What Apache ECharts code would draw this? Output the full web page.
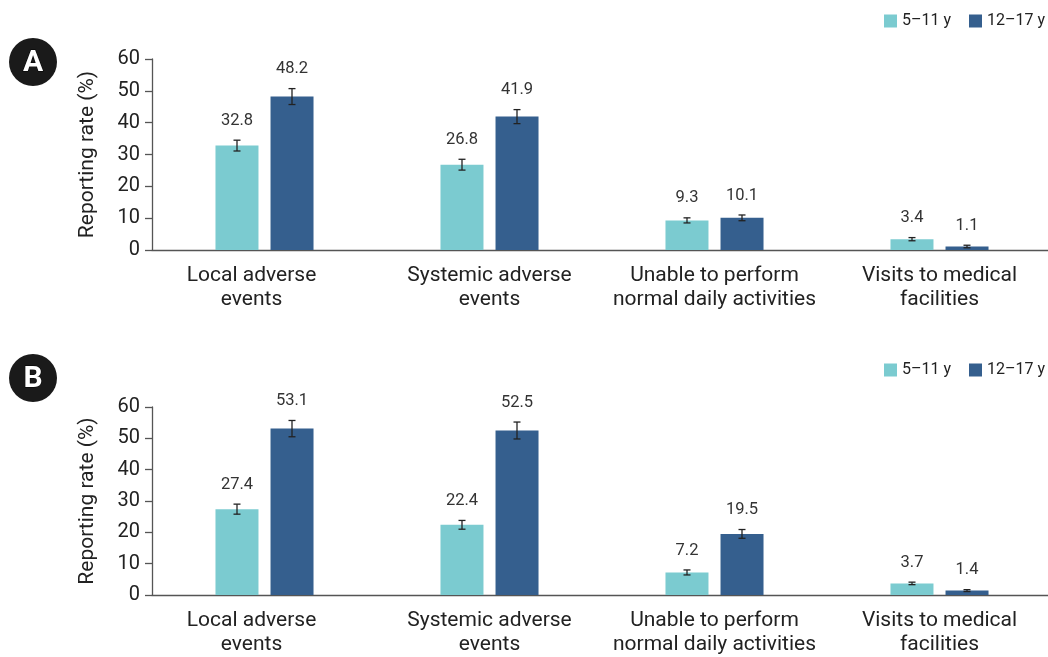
<!DOCTYPE html>
<html>
<head>
<meta charset="utf-8">
<script src="https://cdn.jsdelivr.net/npm/echarts@6/dist/echarts.min.js"></script>
<style>
html,body{margin:0;padding:0;background:#fff;overflow:hidden;}
#chart{width:1056px;height:657px;}
</style>
</head>
<body>
<div id="chart"></div>
<script>
const categories = ['Local adverse\nevents', 'Systemic adverse\nevents', 'Unable to perform\nnormal daily activities', 'Visits to medical\nfacilities'];
const seriesNames = ['5\u201311 y', '12\u201317 y'];
const yTicks = [0, 10, 20, 30, 40, 50, 60];

const A_5_11 = [32.8, 26.8, 9.3, 3.4];
const A_5_11_err = [1.7, 1.7, 0.8, 0.5];
const A_12_17 = [48.2, 41.9, 10.1, 1.1];
const A_12_17_err = [2.5, 2.2, 0.9, 0.4];

const B_5_11 = [27.4, 22.4, 7.2, 3.7];
const B_5_11_err = [1.6, 1.4, 0.8, 0.4];
const B_12_17 = [53.1, 52.5, 19.5, 1.4];
const B_12_17_err = [2.6, 2.7, 1.4, 0.3];

const COLORS = ['#7BCBD0', '#355F8E'];
const FONT = 'Roboto, "Noto Sans", sans-serif';
const BAR_W = 43;
const OFFSET = 27.5;

function barSeries(name, data, idx, colorIdx) {
  return {
    name: name, type: 'bar', xAxisIndex: idx, yAxisIndex: idx,
    data: data, barWidth: BAR_W, barGap: '28%',
    itemStyle: { color: COLORS[colorIdx] },
    emphasis: { disabled: true },
    z: 2
  };
}

function errSeries(name, vals, errs, idx, off) {
  return {
    name: name, type: 'custom', xAxisIndex: idx, yAxisIndex: idx,
    data: vals.map((v, i) => [i, v, errs[i]]),
    z: 5, silent: true,
    renderItem: function (params, api) {
      const i = api.value(0), v = api.value(1), e = api.value(2);
      const c = api.coord([i, v]);
      const x = c[0] + off;
      const top = api.coord([i, v + e])[1];
      const bot = api.coord([i, v - e])[1];
      const cap = 3.5;
      const ls = { stroke: '#222', lineWidth: 1.3 };
      return {
        type: 'group',
        children: [
          { type: 'line', shape: { x1: x, y1: top, x2: x, y2: bot }, style: ls },
          { type: 'line', shape: { x1: x - cap, y1: top, x2: x + cap, y2: top }, style: ls },
          { type: 'line', shape: { x1: x - cap, y1: bot, x2: x + cap, y2: bot }, style: ls },
          { type: 'text', style: { text: v.toFixed(1), x: x, y: top - 11, align: 'center', verticalAlign: 'bottom', fontSize: 16.5, fontFamily: FONT, fill: '#333' } }
        ]
      };
    }
  };
}

function xAxis(idx) {
  return {
    type: 'category', gridIndex: idx, data: categories,
    axisTick: { show: false },
    axisLine: { lineStyle: { color: '#555', width: 1.3 } },
    axisLabel: {
      fontSize: 21, color: '#222', fontFamily: FONT, lineHeight: 24, margin: 14, interval: 0,
      formatter: function (value, index) {
        const tag = index === 0 ? 's' : 'n';
        return value.split('\n').map(l => '{' + tag + '|' + l + '}').join('\n');
      },
      rich: {
        s: { fontSize: 21, color: '#222', fontFamily: FONT, lineHeight: 24, padding: [0, 26, 0, 0] },
        n: { fontSize: 21, color: '#222', fontFamily: FONT, lineHeight: 24 }
      }
    }
  };
}
function yAxis(idx) {
  return {
    type: 'value', gridIndex: idx, min: yTicks[0], max: yTicks[yTicks.length - 1], interval: 10,
    splitLine: { show: false },
    axisLine: { show: true, lineStyle: { color: '#555', width: 1.3 } },
    axisTick: { show: true, length: 7, lineStyle: { color: '#555', width: 1.3 } },
    axisLabel: { fontSize: 20, color: '#222', fontFamily: FONT, margin: 12 },
    name: 'Reporting rate (%)', nameLocation: 'middle', nameGap: 54,
    nameTextStyle: { fontSize: 21, color: '#222', fontFamily: FONT }
  };
}

function legend(top) {
  return {
    top: top, right: 6, itemWidth: 13, itemHeight: 13, itemGap: 18,
    icon: 'rect', data: seriesNames, selectedMode: false,
    textStyle: { fontSize: 16, color: '#222', fontFamily: FONT }
  };
}

function badge(letter, cy) {
  return {
    type: 'group',
    children: [
      { type: 'circle', shape: { cx: 33, cy: cy, r: 24 }, style: { fill: '#1a1a1a' } },
      { type: 'text', style: { text: letter, x: 33, y: cy + 1, align: 'center', verticalAlign: 'middle', fontSize: 30, fontWeight: 'bold', fontFamily: FONT, fill: '#fff', stroke: '#000', lineWidth: 1 } }
    ]
  };
}

const chart = echarts.init(document.getElementById('chart'), null, { renderer: 'canvas' });
chart.setOption({
  animation: false,
  color: COLORS,
  legend: [legend(8), legend(357)],
  grid: [
    { left: 152, top: 59, width: 900, height: 191 },
    { left: 152, top: 407, width: 900, height: 192 }
  ],
  xAxis: [xAxis(0), xAxis(1)],
  yAxis: [yAxis(0), yAxis(1)],
  graphic: [badge('A', 62), badge('B', 378)],
  series: [
    barSeries(seriesNames[0], A_5_11, 0, 0),
    barSeries(seriesNames[1], A_12_17, 0, 1),
    barSeries(seriesNames[0], B_5_11, 1, 0),
    barSeries(seriesNames[1], B_12_17, 1, 1),
    errSeries(seriesNames[0], A_5_11, A_5_11_err, 0, -OFFSET),
    errSeries(seriesNames[1], A_12_17, A_12_17_err, 0, OFFSET),
    errSeries(seriesNames[0], B_5_11, B_5_11_err, 1, -OFFSET),
    errSeries(seriesNames[1], B_12_17, B_12_17_err, 1, OFFSET)
  ]
});
</script>
</body>
</html>
